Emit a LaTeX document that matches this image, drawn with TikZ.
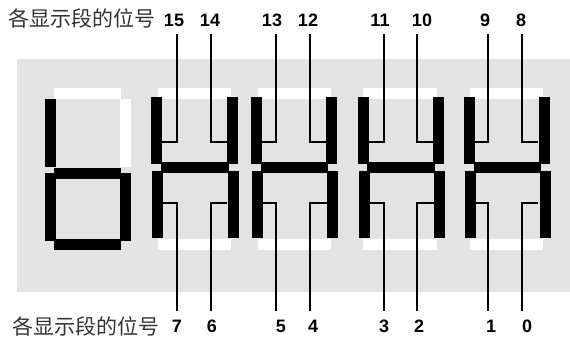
\documentclass[tikz,border=0pt]{standalone}
\usepackage{fontspec}
\setmainfont{Liberation Sans}
\newfontfamily\cjk{Noto Sans CJK SC}
\tikzset{x=0.75pt,y=-0.75pt,
  seg/.style={fill=black,draw=none},
  unlit/.style={fill=white,draw=none},
  lead/.style={draw=black,line width=0.85pt},
  bitno/.style={font=\bfseries\fontsize{13.5}{15}\selectfont,inner sep=0pt},
  captext/.style={font=\cjk\fontsize{15.75}{18}\selectfont,inner sep=0pt,text=black!80}}
\begin{document}
\begin{tikzpicture}
\useasboundingbox (0,0) rectangle (570,340);
\fill[black!11] (17,59) rectangle (570,292);
% first digit
\fill[unlit] (54,88) rectangle (121,99);
\fill[unlit] (120,99) rectangle (131,167);
\fill[seg] (45,99) rectangle (56,167);
\fill[seg] (54,168) rectangle (121,179);
\fill[seg] (45,173) rectangle (56,241);
\fill[seg] (120,173) rectangle (131,241);
\fill[seg] (54,239) rectangle (121,250);
% other digits: left, right, white bar, middle bar
\foreach \xa/\xb/\wa/\wb/\ma/\mb in {151/227/158/231/161/229,251/326/258/331/261/328,358/433/363/437/367/435,464/539/470/543/474/541}{
  \fill[unlit] (\wa,88) rectangle (\wb,99);
  \fill[unlit] (\wa,239) rectangle (\wb,250);
  \fill[seg] (\xa,97) rectangle (\xa+11,164);
  \fill[seg] (\xb,97) rectangle (\xb+11,164);
  \fill[seg] (\ma,162) rectangle (\mb,173);
  \fill[seg] (\xa+1,171) rectangle (\xa+12,238);
  \fill[seg] (\xb+1,171) rectangle (\xb+12,238);
}
% upper bit numbers: number, label x, lead x, segment x
\foreach \n/\lx/\x/\sx in {15/174/177/162,14/210/211/227,13/272/276/262,12/308/310/326,11/380/384/369,10/422/417/433,9/485/488/475,8/521/522/538}{
  \node[bitno] (t\n) at (\lx,20) {\n};
  \coordinate (a\n) at (\x,34);
  \coordinate (s\n) at (\sx,142);
  \draw[lead] (a\n) |- (s\n);
}
% lower bit numbers
\foreach \n/\lx/\x/\sx in {7/177/177/163,6/212/211/227,5/281/276/263,4/313/310/327,3/384/384/370,2/419/417/434,1/491/488/476,0/527/522/538}{
  \node[bitno] (b\n) at (\lx,326) {\n};
  \coordinate (a\n) at (\x,311);
  \coordinate (s\n) at (\sx,203);
  \draw[lead] (a\n) |- (s\n);
}
\node[captext,anchor=west] (captop) at (8,18) {各显示段的位号};
\node[captext,anchor=west] (capbot) at (12,326) {各显示段的位号};
\end{tikzpicture}
\end{document}
